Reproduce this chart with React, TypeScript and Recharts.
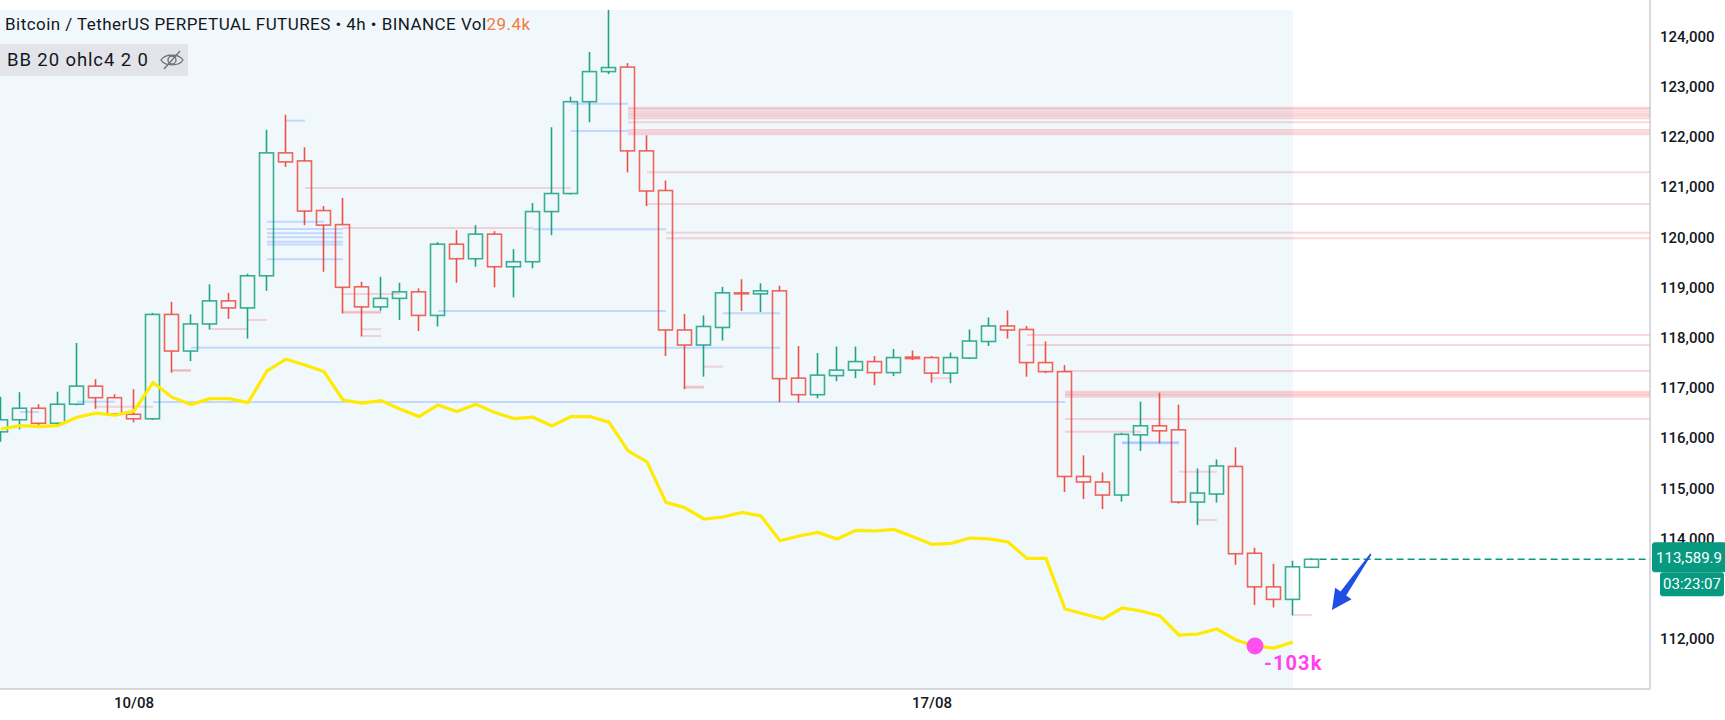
import React from 'react';
import {
  ComposedChart,
  Bar,
  Line,
  XAxis,
  YAxis,
  ReferenceLine,
  ReferenceArea,
  ReferenceDot,
} from 'recharts';

// ---------- data ----------
const opens = [
  116130, 116370, 116600, 116300, 116680, 117040, 116810, 116480, 116390, 118470,
  117740, 118280, 118740, 118600, 119240, 121690, 121530, 120540, 120260, 119020,
  118620, 118790, 118920, 118450, 119870, 119580, 120070, 119420, 119520, 120520,
  120880, 122710, 123310, 123400, 121730, 120940, 118160, 117860, 118210, 118900,
  118880, 118940, 117200, 116870, 117250, 117360, 117530, 117310, 117620, 117610,
  117300, 117600, 117930, 118240, 118170, 117510, 117330, 115240, 115130, 114870,
  116070, 116250, 116170, 114730, 114890, 115440, 113710, 113040, 112790, 113430,
];
const highs = [
  116830, 116920, 116680, 116930, 117900, 117180, 116880, 116980, 118500, 118720,
  118470, 119070, 118900, 119280, 122150, 122450, 121800, 120630, 120790, 119120,
  119220, 119100, 118990, 119910, 120150, 120250, 120130, 119770, 120690, 122200,
  122810, 123700, 124540, 123480, 122040, 121140, 118480, 118450, 119020, 119170,
  119090, 119040, 117840, 117700, 117830, 117830, 117640, 117780, 117750, 117640,
  117710, 118170, 118410, 118550, 118240, 117930, 117460, 115660, 115320, 116110,
  116730, 116910, 116670, 115400, 115580, 115820, 113820, 113500, 113560, 113610,
];
const lows = [
  115930, 116180, 116270, 116270, 116660, 116590, 116460, 116320, 116370, 117310,
  117540, 118170, 118380, 117990, 118940, 121410, 120250, 119320, 118490, 118030,
  118540, 118360, 118140, 118230, 119100, 119420, 119010, 118810, 119390, 120050,
  120860, 122300, 123260, 121300, 120630, 117640, 116980, 117230, 117950, 118540,
  118520, 116720, 116710, 116800, 117140, 117200, 117060, 117240, 117560, 117110,
  117100, 117580, 117840, 117990, 117230, 117300, 114930, 114790, 114590, 114740,
  115750, 115900, 114700, 114270, 114720, 113480, 112680, 112630, 112470, 113420,
];
const closes = [
  116370, 116600, 116300, 116680, 117040, 116810, 116490, 116390, 118470, 117740,
  118280, 118740, 118600, 119240, 121690, 121510, 120530, 120250, 119010, 118620,
  118790, 118920, 118450, 119870, 119580, 120070, 119420, 119520, 120520, 120880,
  122710, 123310, 123390, 121730, 120930, 118160, 117860, 118230, 118900, 118880,
  118940, 117190, 116870, 117260, 117360, 117530, 117310, 117610, 117590, 117300,
  117610, 117940, 118240, 118160, 117510, 117330, 115240, 115130, 114870, 116080,
  116250, 116150, 114730, 114910, 115450, 113700, 113040, 112790, 113440, 113589.9,
];
// cumulative volume delta style line, in thousands
const cvdValues = [
  5.5, 7.2, 6.7, 7.2, 11.4, 13.4, 12.4, 14.5, 28.7, 21.4,
  17.7, 20.7, 20.7, 18.7, 34.5, 40.4, 37.5, 34.2, 20, 18.4,
  19.7, 15.5, 11.7, 17.5, 14.2, 17.9, 13.7, 10.7, 11.4, 7,
  11.7, 11.7, 8.9, -5.4, -10.9, -31.2, -33.9, -39.5, -38.5, -36.2,
  -38, -50.4, -48, -46.2, -49.5, -45.2, -45.5, -44.7, -48.4, -52.2,
  -51.7, -49, -49.4, -51, -59.2, -59.2, -84.5, -87, -89.5, -84,
  -85.5, -88, -97.5, -97, -94.5, -100, -103, -104, -101,
];

const dateTicks = [7, 49];
const dateLabels = ['10/08', '17/08'];
const priceTicks = [112000, 114000, 115000, 116000, 117000, 118000, 119000, 120000, 121000, 122000, 123000, 124000];

const lastPrice = 113589.9;
const countdown = '03:23:07';
const cvdMarker = { index: 66, value: -103, label: '-103k' };
const highlightEnd = 68;
const highlightTop = 124540;

// [price, fromCandle, toCandle] (null = to the right edge)
const pinkLevels: [number, number, number | null][] = [
  [122590, 33, null], [122559, 33, null], [122511, 33, null], [122465, 33, null],
  [122425, 33, null], [122379, 33, null], [122300, 33, null], [122146, 33, null],
  [122100, 33, null], [122060, 33, null], [121303, 34, null], [120671, 34, null],
  [120099, 35, null], [119988, 35, null], [118060, 54, null], [117861, 54, null],
  [117343, 56, null], [116930, 56, null], [116895, 56, null], [116864, 56, null],
  [116831, 56, null], [116386, 56, null],
  [120990, 16, 30], [120193, 18, 28], [118877, 18, 21], [118525, 18, 20], [118505, 18, 20],
  [118360, 13, 14], [118180, 11, 13], [118174, 19, 20], [118040, 19, 20],
  [117363, 9, 10], [117343, 9, 10], [116632, 5, 8], [117429, 37, 38],
  [117030, 36, 37], [117010, 36, 37], [117197, 49, 50], [116133, 56, 60],
  [115336, 62, 64], [114373, 63, 64], [112480, 68, 69],
];
const blueLevels: [number, number, number][] = [
  [122332, 15, 16], [120318, 14, 17], [120173, 14, 18], [120087, 14, 18],
  [120008, 14, 18], [119920, 14, 18], [119864, 14, 18], [119569, 14, 18],
  [122670, 30, 33], [122126, 30, 33], [120167, 28, 35], [118539, 23, 35],
  [118493, 38, 41], [117807, 10, 41], [116725, 8, 56], [116731, 4, 6],
  [116526, 1, 2], [115922, 59, 62], [115902, 59, 62],
];
// arrow annotation: [candle position, price] tail then tip
const arrowTail = [72.1, 113696];
const arrowTip = [70.05, 112580];

// ---------- layout ----------
const X_MIN = -0.0526;
const X_MAX = 86.79;
const Y_MIN = 111004;
const Y_MAX = 124737;
const UP = '#089981';
const CANDLE_UP = '#1fa386';
const CANDLE_DOWN = '#ef4f45';
const FONT = 'Roboto, "Noto Sans", sans-serif';

const data = opens.map((o, i) => ({
  i,
  open: o,
  high: highs[i],
  low: lows[i],
  close: closes[i],
  cvd: i < cvdValues.length ? cvdValues[i] : null,
}));

const CandleShape = (props: any) => {
  const { x, y, width, height, payload } = props;
  if (!payload) return null;
  const { open, close, high, low } = payload;
  const top = Math.min(y, y + height);
  const h = Math.abs(height);
  const range = high - low || 1;
  const py = (v: number) => top + ((high - v) / range) * h;
  const up = close >= open;
  const color = up ? CANDLE_UP : CANDLE_DOWN;
  const cx = x + width / 2;
  const bTop = py(Math.max(open, close));
  const bBot = py(Math.min(open, close));
  return (
    <g>
      <line x1={cx} x2={cx} y1={top} y2={bTop} stroke={color} strokeWidth={1.6} />
      <line x1={cx} x2={cx} y1={bBot} y2={top + h} stroke={color} strokeWidth={1.6} />
      <rect
        x={cx - 7}
        y={bTop}
        width={14}
        height={Math.max(bBot - bTop, 1)}
        fill="none"
        stroke={color}
        strokeOpacity={0.88}
        strokeWidth={1.6}
      />
    </g>
  );
};

const ArrowShape = (props: any) => {
  const { x1, y1, x2, y2 } = props;
  if ([x1, y1, x2, y2].some((v) => typeof v !== 'number' || isNaN(v))) return null;
  const dx = x2 - x1;
  const dy = y2 - y1;
  const len = Math.sqrt(dx * dx + dy * dy) || 1;
  const ux = dx / len;
  const uy = dy / len;
  const nx = -uy;
  const ny = ux;
  const headLen = 20;
  const headW = 10;
  const bx = x2 - ux * headLen;
  const by = y2 - uy * headLen;
  const pts = [
    [x1 + nx * 0.8, y1 + ny * 0.8],
    [bx + nx * 3.4, by + ny * 3.4],
    [bx + nx * headW, by + ny * headW],
    [x2, y2],
    [bx - nx * headW, by - ny * headW],
    [bx - nx * 3.4, by - ny * 3.4],
    [x1 - nx * 0.8, y1 - ny * 0.8],
  ];
  return <polygon points={pts.map((p) => p.join(',')).join(' ')} fill="#1f4fe3" />;
};

// y-axis tick: ordinary price labels, and the last-price badge (drawn last, on top)
const PriceTick = (props: any) => {
  const { x, y, payload } = props;
  const v = payload?.value;
  if (typeof x !== 'number' || typeof y !== 'number') return null;
  if (v === lastPrice) {
    const left = x - 9;
    return (
      <g>
        <rect x={left + 1} y={y - 17} width={75} height={30} rx={3} fill={UP} />
        <text x={left + 38} y={y - 1} fill="#fff" fontSize={15} fontFamily={FONT} textAnchor="middle" dominantBaseline="central">
          {lastPrice.toLocaleString('en-US', { minimumFractionDigits: 1 })}
        </text>
        <rect x={left + 9} y={y + 13} width={64} height={24} rx={3} fill={UP} />
        <text x={left + 41} y={y + 25} fill="#fff" fontSize={15} fontFamily={FONT} textAnchor="middle" dominantBaseline="central">
          {countdown}
        </text>
      </g>
    );
  }
  return (
    <text x={x} y={y} fill="#131722" fontSize={15} fontWeight={500} fontFamily={FONT} textAnchor="start" dominantBaseline="central">
      {Number(v).toLocaleString('en-US')}
    </text>
  );
};

const CvdDotShape = (props: any) => {
  const { cx, cy } = props;
  if (typeof cx !== 'number' || typeof cy !== 'number') return null;
  return (
    <g>
      <circle cx={cx} cy={cy} r={8.5} fill="#ff4fee" />
      <text x={cx + 9} y={cy + 17} fill="#ff44ee" fontSize={20} letterSpacing={1.1} fontWeight={700} fontFamily={FONT} dominantBaseline="central">
        {cvdMarker.label}
      </text>
    </g>
  );
};

const EyeOff = () => (
  <svg width={26} height={22} viewBox="0 0 26 22" style={{ position: 'absolute', left: 159, top: 5 }}>
    <path d="M2 11 C6 4.5 20 4.5 24 11 C20 17.5 6 17.5 2 11 Z" fill="none" stroke="#6a6d78" strokeWidth={1.3} />
    <circle cx={13} cy={11} r={4} fill="none" stroke="#6a6d78" strokeWidth={1.3} />
    <line x1={5} y1={20} x2={21} y2={2} stroke="#6a6d78" strokeWidth={1.3} />
  </svg>
);

export default function App() {
  return (
    <div style={{ position: 'absolute', left: 0, top: 0, width: 1725, height: 720, background: '#ffffff', fontFamily: FONT }}>
      <ComposedChart width={1725} height={720} data={data} margin={{ top: 0, right: 0, bottom: 0, left: 0 }}>
        <XAxis
          type="number"
          dataKey="i"
          domain={[X_MIN, X_MAX]}
          allowDataOverflow
          ticks={dateTicks}
          tickFormatter={(v: number) => dateLabels[dateTicks.indexOf(v)] ?? ''}
          axisLine={{ stroke: '#b2b5be' }}
          tickLine={false}
          tick={{ fill: '#131722', fontSize: 15, fontFamily: FONT, fontWeight: 500 }}
          height={31}
        />
        <YAxis
          yAxisId="price"
          orientation="right"
          domain={[Y_MIN, Y_MAX]}
          allowDataOverflow
          ticks={[...priceTicks, lastPrice]}
          interval={0}
          axisLine={{ stroke: '#b2b5be' }}
          tickLine={false}
          tickMargin={4}
          tick={PriceTick}
          width={75}
        />
        <YAxis yAxisId="cvd" hide domain={[-124.5, 220]} allowDataOverflow />

        <ReferenceArea
          yAxisId="price"
          x1={X_MIN}
          x2={highlightEnd}
          y1={Y_MIN}
          y2={highlightTop}
          fill="#f0f8fc"
          fillOpacity={1}
          stroke="none"
          ifOverflow="visible"
        />

        {pinkLevels.map(([p, a, b], k) => (
          <ReferenceLine
            key={'pk' + k}
            yAxisId="price"
            segment={[{ x: a, y: p }, { x: b === null ? X_MAX : b, y: p }]}
            stroke="#f23645"
            strokeOpacity={0.2}
            strokeWidth={2}
            ifOverflow="visible"
          />
        ))}
        {blueLevels.map(([p, a, b], k) => (
          <ReferenceLine
            key={'bl' + k}
            yAxisId="price"
            segment={[{ x: a, y: p }, { x: b, y: p }]}
            stroke="#2962ff"
            strokeOpacity={0.22}
            strokeWidth={2}
            ifOverflow="visible"
          />
        ))}

        <Bar
          yAxisId="price"
          dataKey={(d: any) => [d.low, d.high]}
          shape={CandleShape}
          barSize={14}
          isAnimationActive={false}
        />
        <Line
          yAxisId="cvd"
          dataKey="cvd"
          stroke="#ffeb00"
          strokeWidth={3.2}
          dot={false}
          activeDot={false}
          isAnimationActive={false}
        />

        <ReferenceLine
          yAxisId="price"
          segment={[{ x: 69.4, y: lastPrice }, { x: X_MAX, y: lastPrice }]}
          stroke={UP}
          strokeWidth={1.5}
          strokeDasharray="7 4"
          ifOverflow="visible"
        />
        <ReferenceLine
          yAxisId="price"
          segment={[{ x: arrowTail[0], y: arrowTail[1] }, { x: arrowTip[0], y: arrowTip[1] }]}
          shape={ArrowShape}
          ifOverflow="visible"
        />
        <ReferenceDot
          yAxisId="cvd"
          x={cvdMarker.index}
          y={cvdMarker.value}
          shape={CvdDotShape}
          ifOverflow="visible"
        />
      </ComposedChart>

      <div
        style={{
          position: 'absolute',
          left: 5,
          top: 14,
          fontSize: 17,
          letterSpacing: 0.45,
          lineHeight: '20px',
          color: '#131722',
          whiteSpace: 'nowrap',
        }}
      >
        Bitcoin / TetherUS PERPETUAL FUTURES • 4h • BINANCE Vol<span style={{ color: '#f47b3e' }}>29.4k</span>
      </div>
      <div
        style={{
          position: 'absolute',
          left: 0,
          top: 44,
          width: 188,
          height: 32,
          background: '#e2e4ea',
          borderRadius: 2,
        }}
      >
        <div style={{ position: 'absolute', left: 7, top: 6, fontSize: 18.5, letterSpacing: 0.9, lineHeight: '20px', color: '#131722', whiteSpace: 'nowrap' }}>
          BB 20 ohlc4 2 0
        </div>
        <EyeOff />
      </div>
    </div>
  );
}
